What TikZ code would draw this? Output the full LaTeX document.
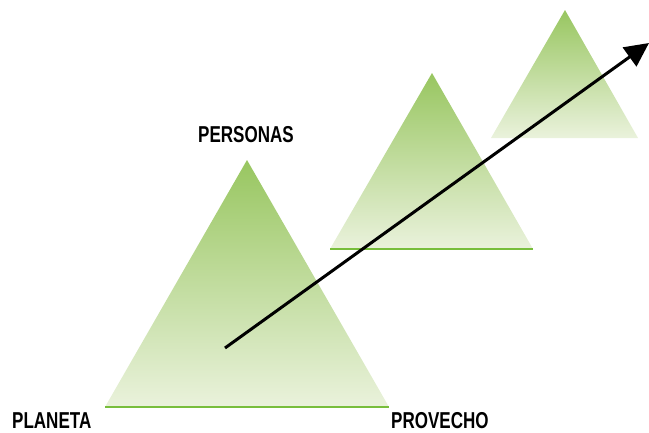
\documentclass[tikz,border=0pt]{standalone}
\usepackage{fontspec}
\newfontfamily\labelfont[FakeStretch=0.74]{Liberation Sans Bold}
\usetikzlibrary{positioning, arrows.meta}

\begin{document}
\begin{tikzpicture}[x=1pt,y=-1pt,
  baseline/.style={draw={rgb,255:red,120;green,190;blue,60}, line width=1.8pt},
  lbl/.style={font=\labelfont\fontsize{23}{23}\selectfont, inner sep=0pt}]
\useasboundingbox (0,0) rectangle (649,432);
\foreach \ax/\ay/\l/\r/\by/\n in {
  247/160/105/389/407/a,
  432/73/330/533/249/b,
  565/10/491/638/138/c
}{
  \coordinate (\n0) at (\ax,\ay);
  \coordinate (\n1) at (\l,\by);
  \coordinate (\n2) at (\r,\by);
  \shade[top color={rgb,255:red,152;green,198;blue,96}, bottom color={rgb,255:red,234;green,242;blue,220}] (\n0) -- (\n1) -- (\n2) -- cycle;
}
\draw[baseline] (a1) -- (a2);
\draw[baseline] (b1) -- (b2);
\node[lbl, anchor=base] (personas) at (246,142) {PERSONAS};
\node[lbl, anchor=base west] (planeta) at (12,428) {PLANETA};
\node[lbl, anchor=base west] (provecho) at (391,428) {PROVECHO};
\coordinate (from) at (225,348);
\coordinate (to) at (649,43);
\draw[line width=3pt, -{Triangle[length=24pt,width=23pt]}] (from) -- (to);
\end{tikzpicture}
\end{document}
